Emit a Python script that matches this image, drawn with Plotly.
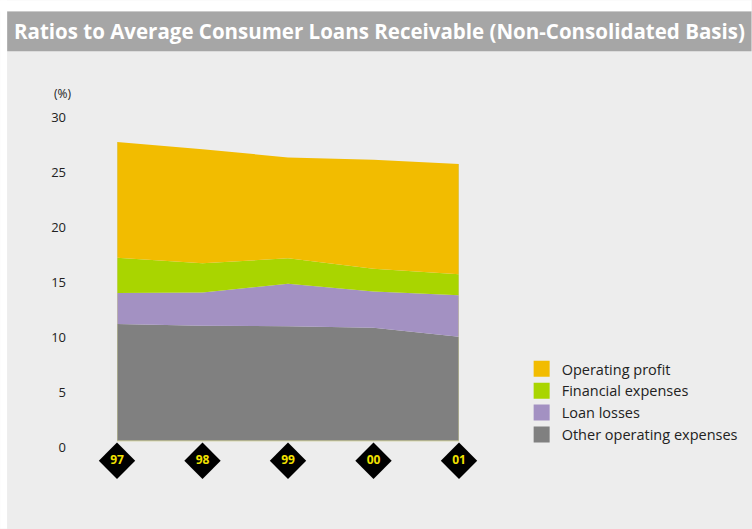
import plotly.graph_objects as go

years = ["97", "98", "99", "00", "01"]
other_opex = [10.6, 10.45, 10.4, 10.25, 9.45]
loan_losses = [2.8, 3.0, 3.85, 3.3, 3.75]
financial_exp = [3.2, 2.65, 2.3, 2.05, 1.9]
operating_profit = [10.5, 10.35, 9.15, 9.9, 10.0]
ytick_vals = [0, 5, 10, 15, 20, 25, 30]
ytick_text = ["0", "5", "10", "15", "20", "25", "30"]

series = [
    ("Other operating expenses", other_opex, "#808080"),
    ("Loan losses", loan_losses, "#a391c2"),
    ("Financial expenses", financial_exp, "#a9d500"),
    ("Operating profit", operating_profit, "#f2bc00"),
]

W, H = 752, 529
L, R, T, B = 117, 292.7, 109.8, 43.8
PW, PH = W - L - R, H - T - B

def px_x(p):
    return (p - L) / PW

def px_y(p):
    return (H - B - p) / PH

FONT = "Open Sans"
xs = list(range(len(years)))

fig = go.Figure()
for name, vals, col in series:
    fig.add_trace(go.Scatter(
        x=xs, y=vals, name=name, stackgroup="one", mode="lines",
        line=dict(width=0, color=col), fillcolor=col, showlegend=False,
        hoverinfo="skip",
    ))

totals = [sum(v) for v in zip(*[s[1] for s in series])]
fig.add_trace(go.Scatter(
    x=[xs[0], xs[0], xs[-1], xs[-1]], y=[totals[0], 0, 0, totals[-1]],
    mode="lines", line=dict(color="#cfcf9a", width=1), showlegend=False,
    hoverinfo="skip",
))

# legend entries (top to bottom)
for name, vals, col in reversed(series):
    fig.add_trace(go.Scatter(
        x=[None], y=[None], mode="markers", name=name, legendgroup=name,
        marker=dict(symbol="square", size=16, color=col),
    ))

# year diamonds
fig.add_trace(go.Scatter(
    x=xs, y=[-1.8] * len(xs), mode="markers+text", text=years,
    textposition="middle center",
    textfont=dict(family=FONT, size=12, color="#f2e200", weight="bold"),
    marker=dict(symbol="diamond", size=28, color="black"),
    showlegend=False, cliponaxis=False, hoverinfo="skip",
))

shapes = [
    dict(type="rect", xref="paper", yref="paper", x0=px_x(7), x1=px_x(W),
         y0=px_y(51), y1=px_y(11), fillcolor="#a6a6a6", line_width=0, layer="below"),
    dict(type="rect", xref="paper", yref="paper", x0=px_x(0), x1=px_x(W),
         y0=px_y(11), y1=px_y(0), fillcolor="white", line_width=0, layer="below"),
    dict(type="rect", xref="paper", yref="paper", x0=px_x(0), x1=px_x(7),
         y0=px_y(H), y1=px_y(0), fillcolor="white", line_width=0, layer="below"),
]

annotations = [
    dict(text="Ratios to Average Consumer Loans Receivable (Non-Consolidated Basis)",
         xref="paper", yref="paper", x=px_x(12), y=px_y(31), xanchor="left",
         yanchor="middle", showarrow=False,
         font=dict(family=FONT, size=20.5, color="white", weight="bold")),
    dict(text="(%)", xref="paper", yref="paper", x=px_x(62.5), y=px_y(93.5),
         xanchor="center", yanchor="middle", showarrow=False,
         font=dict(family=FONT, size=12, color="#222222")),
]

fig.update_layout(
    width=W, height=H,
    margin=dict(l=L, r=R, t=T, b=B, autoexpand=False),
    paper_bgcolor="#ededed", plot_bgcolor="rgba(0,0,0,0)",
    shapes=shapes, annotations=annotations,
    xaxis=dict(range=[0, 4], visible=False, fixedrange=True),
    yaxis=dict(range=[-4, 30], tickvals=ytick_vals, ticktext=ytick_text,
               showgrid=False, zeroline=False, showline=False,
               ticks="", ticklabelstandoff=50, ticklabelshift=7,
               tickfont=dict(family=FONT, size=13, color="#222222")),
    legend=dict(x=px_x(522), y=px_y(353), xanchor="left", yanchor="top",
                bgcolor="rgba(0,0,0,0)", traceorder="grouped", tracegroupgap=0,
                font=dict(family=FONT, size=14.5, color="#222222")),
    showlegend=True,
)

fig.write_html("out.html")
